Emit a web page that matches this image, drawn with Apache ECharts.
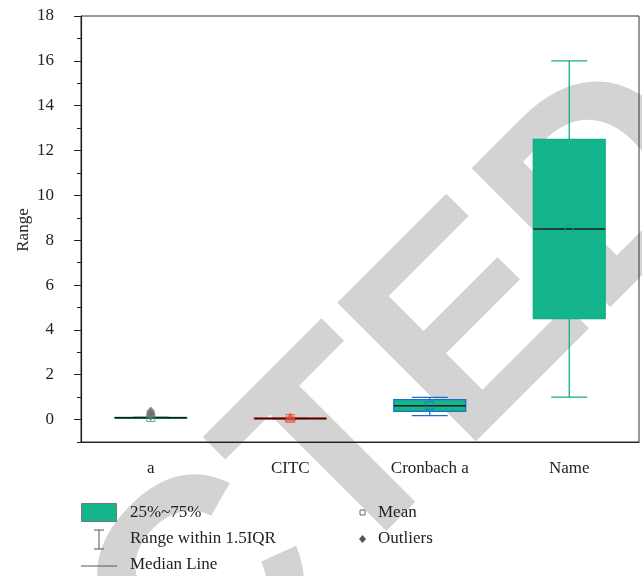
<!DOCTYPE html>
<html>
<head>
<meta charset="utf-8">
<script src="https://cdn.jsdelivr.net/npm/echarts@6/dist/echarts.min.js"></script>
<style>
html,body{margin:0;padding:0;background:#fff;}
#chart{width:642px;height:576px;}
</style>
</head>
<body>
<div id="chart"></div>
<script>
// ---- data ----
const categories = ['a', 'CITC', 'Cronbach a', 'Name'];
const whiskerLow  = [0.05, 0.02, 0.18, 1.0];
const quartile1   = [0.06, 0.03, 0.37, 4.5];
const medians     = [0.08, 0.05, 0.62, 8.5];
const quartile3   = [0.10, 0.07, 0.89, 12.5];
const whiskerHigh = [0.11, 0.08, 0.99, 16.0];
const means       = [0.09, 0.05, 0.63, 8.5];
const outliersA    = [0.16, 0.26, 0.36];
const outliersCITC = [0.11];
const yTicks = [0, 2, 4, 6, 8, 10, 12, 14, 16, 18];
const yMinorTicks = [-1, 1, 3, 5, 7, 9, 11, 13, 15, 17];

// ---- styles ----
const FONT = 'Liberation Serif';
const TEAL = '#14b48d';
const borderColors = ['#1aa882', '#e8473b', '#1b6fc6', '#17ac80'];

const boxData = categories.map((c, i) => [i, whiskerLow[i], quartile1[i], medians[i], quartile3[i], whiskerHigh[i]]);
const meanData = categories.map((c, i) => ({ value: [i, means[i]], itemStyle: { borderColor: borderColors[i] } }));
const outA = outliersA.map(v => [0, v]);
const outC = outliersCITC.map(v => [1, v]);

function renderBox(params, api) {
  const idx = api.value(0);
  const lo = api.coord([idx, api.value(1)]);
  const q1 = api.coord([idx, api.value(2)]);
  const md = api.coord([idx, api.value(3)]);
  const q3 = api.coord([idx, api.value(4)]);
  const hi = api.coord([idx, api.value(5)]);
  const band = api.size([1, 0])[0];
  const bw = band * 0.515, half = bw / 2, cap = bw / 4;
  const x = lo[0];
  const col = borderColors[idx];
  const ls = { stroke: col, lineWidth: 1.3 };
  return {
    type: 'group',
    children: [
      { type: 'line', shape: { x1: x, y1: hi[1], x2: x, y2: q3[1] }, style: ls },
      { type: 'line', shape: { x1: x, y1: q1[1], x2: x, y2: lo[1] }, style: ls },
      { type: 'line', shape: { x1: x - cap, y1: hi[1], x2: x + cap, y2: hi[1] }, style: ls },
      { type: 'line', shape: { x1: x - cap, y1: lo[1], x2: x + cap, y2: lo[1] }, style: ls },
      { type: 'rect', shape: { x: x - half, y: q3[1], width: bw, height: Math.max(q1[1] - q3[1], 1) },
        style: { fill: TEAL, stroke: col, lineWidth: 1.3 } },
      { type: 'line', shape: { x1: x - half, y1: md[1], x2: x + half, y2: md[1] },
        style: { stroke: '#1a1a1a', lineWidth: 1.5 } }
    ]
  };
}

const chart = echarts.init(document.getElementById('chart'), null, { renderer: 'canvas' });

const txt = { fontFamily: FONT, fontSize: 17, fill: '#222' };

chart.setOption({
  animation: false,
  backgroundColor: '#fff',
  grid: { left: 81, right: 3, top: 16, bottom: 134, show: true, borderColor: '#333', borderWidth: 1, backgroundColor: 'transparent' },
  xAxis: {
    type: 'category',
    data: categories,
    axisLine: { onZero: false, lineStyle: { color: '#222', width: 1.2 } },
    axisTick: { alignWithLabel: true, length: 7, lineStyle: { color: '#222' } },
    axisLabel: { fontFamily: FONT, fontSize: 17, color: '#222', margin: 18 },
    splitLine: { show: false }
  },
  yAxis: [{
    type: 'value', min: -1, max: 18,
    axisLine: { show: true, lineStyle: { color: '#222', width: 1.2 } },
    axisTick: { show: true, length: 7, customValues: yTicks, lineStyle: { color: '#222' } },
    axisLabel: { fontFamily: FONT, fontSize: 17, color: '#222', margin: 27, customValues: yTicks },
    splitLine: { show: false }
  }, {
    type: 'value', min: -1, max: 18, position: 'left',
    axisLine: { show: false },
    axisTick: { show: true, length: 4, customValues: yMinorTicks, lineStyle: { color: '#222' } },
    axisLabel: { show: false },
    splitLine: { show: false }
  }],
  graphic: [
    { type: 'text', x: -556, y: 1362, rotation: Math.PI / 4, z: -10, silent: true,
      style: { text: 'RETRACTED', fontFamily: 'Liberation Sans', fontWeight: 'bold', fontSize: 285, fill: '#d3d3d3', textAlign: 'left', textVerticalAlign: 'middle' } },
    { type: 'text', x: 24, y: 230, rotation: Math.PI / 2,
      style: Object.assign({ text: 'Range', textAlign: 'center', textVerticalAlign: 'middle' }, txt) },
    // legend
    { type: 'rect', shape: { x: 81.5, y: 503.5, width: 35, height: 18 }, style: { fill: TEAL, stroke: '#777', lineWidth: 1 } },
    { type: 'text', x: 130, y: 513, style: Object.assign({ text: '25%~75%', textVerticalAlign: 'middle' }, txt) },
    { type: 'line', shape: { x1: 99, y1: 530, x2: 99, y2: 549 }, style: { stroke: '#555', lineWidth: 1 } },
    { type: 'line', shape: { x1: 94, y1: 530, x2: 104, y2: 530 }, style: { stroke: '#555', lineWidth: 1 } },
    { type: 'line', shape: { x1: 94, y1: 549, x2: 104, y2: 549 }, style: { stroke: '#555', lineWidth: 1 } },
    { type: 'text', x: 130, y: 539, style: Object.assign({ text: 'Range within 1.5IQR', textVerticalAlign: 'middle' }, txt) },
    { type: 'line', shape: { x1: 81, y1: 566, x2: 117, y2: 566 }, style: { stroke: '#555', lineWidth: 1 } },
    { type: 'text', x: 130, y: 565, style: Object.assign({ text: 'Median Line', textVerticalAlign: 'middle' }, txt) },
    { type: 'rect', shape: { x: 360, y: 510, width: 5, height: 5 }, style: { fill: '#fff', stroke: '#666', lineWidth: 1 } },
    { type: 'text', x: 378, y: 513, style: Object.assign({ text: 'Mean', textVerticalAlign: 'middle' }, txt) },
    { type: 'polygon', shape: { points: [[362.5, 535], [366, 539], [362.5, 543], [359, 539]] }, style: { fill: '#555' } },
    { type: 'text', x: 378, y: 539, style: Object.assign({ text: 'Outliers', textVerticalAlign: 'middle' }, txt) }
  ],
  series: [
    { type: 'custom', renderItem: renderBox, data: boxData, encode: { x: 0, y: [1, 2, 3, 4, 5] }, z: 2 },
    { type: 'scatter', data: meanData, symbol: 'rect', symbolSize: 8, z: 3,
      itemStyle: { color: 'rgba(0,0,0,0)', borderWidth: 1, opacity: 0.8 } },
    { type: 'scatter', data: outA, symbol: 'diamond', symbolSize: [9, 10], z: 4, itemStyle: { color: '#6d6d6d' } },
    { type: 'scatter', data: outC, symbol: 'triangle', symbolSize: [12, 9], z: 4, itemStyle: { color: '#e8473b' } }
  ]
});
</script>
</body>
</html>
